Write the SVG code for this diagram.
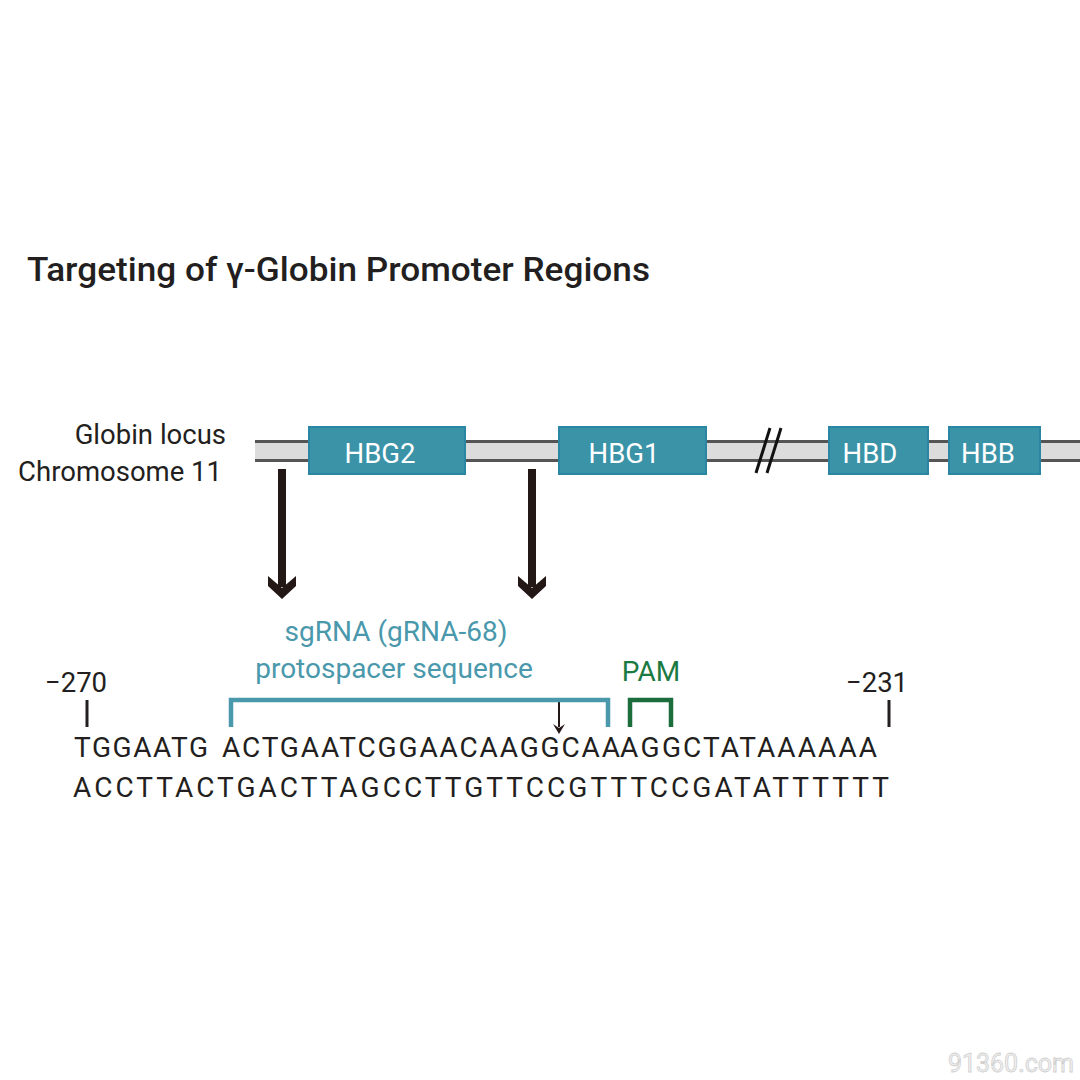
<svg xmlns="http://www.w3.org/2000/svg" width="1080" height="1080" viewBox="0 0 1080 1080">
<style>
text{font-family:Roboto,"Liberation Sans",sans-serif;}
.title{font-size:34px;font-weight:500;fill:#231f20;}
.lbl{font-size:27.5px;fill:#231f20;}
.gene rect{fill:#3b93a8;stroke:#2a86a2;stroke-width:2;}
.gene text{font-size:27.5px;fill:#ffffff;text-anchor:middle;}
.teal{fill:#4a98ac;}
.green{fill:#1b7a42;}
.seq{font-size:28px;fill:#231f20;}
.arrow{fill:#231815;}
</style>
<rect width="1080" height="1080" fill="#ffffff"/>
<text class="title" x="27" y="281" textLength="623" lengthAdjust="spacingAndGlyphs">Targeting of γ-Globin Promoter Regions</text>

<g id="chromosome">
<rect x="255" y="441" width="830" height="20" fill="#dcdcdc"/>
<line x1="255" y1="441.5" x2="1080" y2="441.5" stroke="#555555" stroke-width="3"/>
<line x1="255" y1="460.5" x2="1080" y2="460.5" stroke="#555555" stroke-width="3"/>
<text class="lbl" x="226" y="444" text-anchor="end">Globin locus</text>
<text class="lbl" x="222" y="481" text-anchor="end">Chromosome 11</text>
</g>
<g id="break">
<line x1="756" y1="473" x2="770" y2="428" stroke="#111111" stroke-width="3"/>
<line x1="767" y1="473" x2="781" y2="428" stroke="#111111" stroke-width="3"/>
</g>
<g id="HBG2" class="gene"><rect x="309" y="427" width="156" height="47"/><text x="380" y="463">HBG2</text></g>
<g id="HBG1" class="gene"><rect x="559" y="427" width="147" height="47"/><text x="624" y="463">HBG1</text></g>
<g id="HBD" class="gene"><rect x="829" y="427" width="99" height="47"/><text x="870" y="463">HBD</text></g>
<g id="HBB" class="gene"><rect x="949" y="427" width="91" height="47"/><text x="988" y="463">HBB</text></g>

<g id="connectors">
<rect class="arrow" x="278" y="469" width="8" height="118"/>
<polygon class="arrow" points="268,576 282,588 296,576 296,586 282,599 268,586"/>
<rect class="arrow" x="528" y="469" width="8" height="118"/>
<polygon class="arrow" points="518,576 532,588 546,576 546,586 532,599 518,586"/>
<line x1="559" y1="700" x2="559" y2="727" stroke="#231815" stroke-width="2"/>
<polygon class="arrow" points="553,724 559,728 565,724 559,734"/>
</g>

<g id="sgRNA">
<text class="teal" x="396" y="641" font-size="28" text-anchor="middle">sgRNA (gRNA-68)</text>
<text class="teal" x="394" y="678" font-size="28" text-anchor="middle">protospacer sequence</text>
<polyline points="231,727 231,700 608,700 608,727" fill="none" stroke="#4a98ac" stroke-width="4.5"/>
</g>
<g id="PAM">
<text class="green" x="651" y="681" font-size="28" text-anchor="middle">PAM</text>
<polyline points="630,727 630,700 671,700 671,727" fill="none" stroke="#1b6e3c" stroke-width="4.5"/>
</g>
<g id="pos270">
<text class="lbl" x="76" y="692" font-size="28" text-anchor="middle">−270</text>
<line x1="87" y1="700" x2="87" y2="727" stroke="#231f20" stroke-width="3"/>
</g>
<g id="pos231">
<text class="lbl" x="877" y="692" font-size="28" text-anchor="middle">−231</text>
<line x1="889" y1="700" x2="889" y2="727" stroke="#231f20" stroke-width="3"/>
</g>

<g id="sequence">
<text class="seq" x="74" y="757" textLength="134" lengthAdjust="spacing">TGGAATG</text>
<text class="seq teal" x="222" y="757" textLength="398" lengthAdjust="spacing">ACTGAATCGGAACAAGGCAA</text>
<text class="seq green" x="620" y="757" textLength="61" lengthAdjust="spacing">AGG</text>
<text class="seq" x="683" y="757" textLength="194" lengthAdjust="spacing">CTATAAAAAA</text>
<text class="seq" x="73" y="797" textLength="816" lengthAdjust="spacing">ACCTTACTGACTTAGCCTTGTTCCGTTTCCGATATTTTTT</text>
</g>

<text x="1074" y="1072" font-size="25" text-anchor="end" fill="#f2f2f2" stroke="#d0d0d0" stroke-width="0.8">91360.com</text>
</svg>
